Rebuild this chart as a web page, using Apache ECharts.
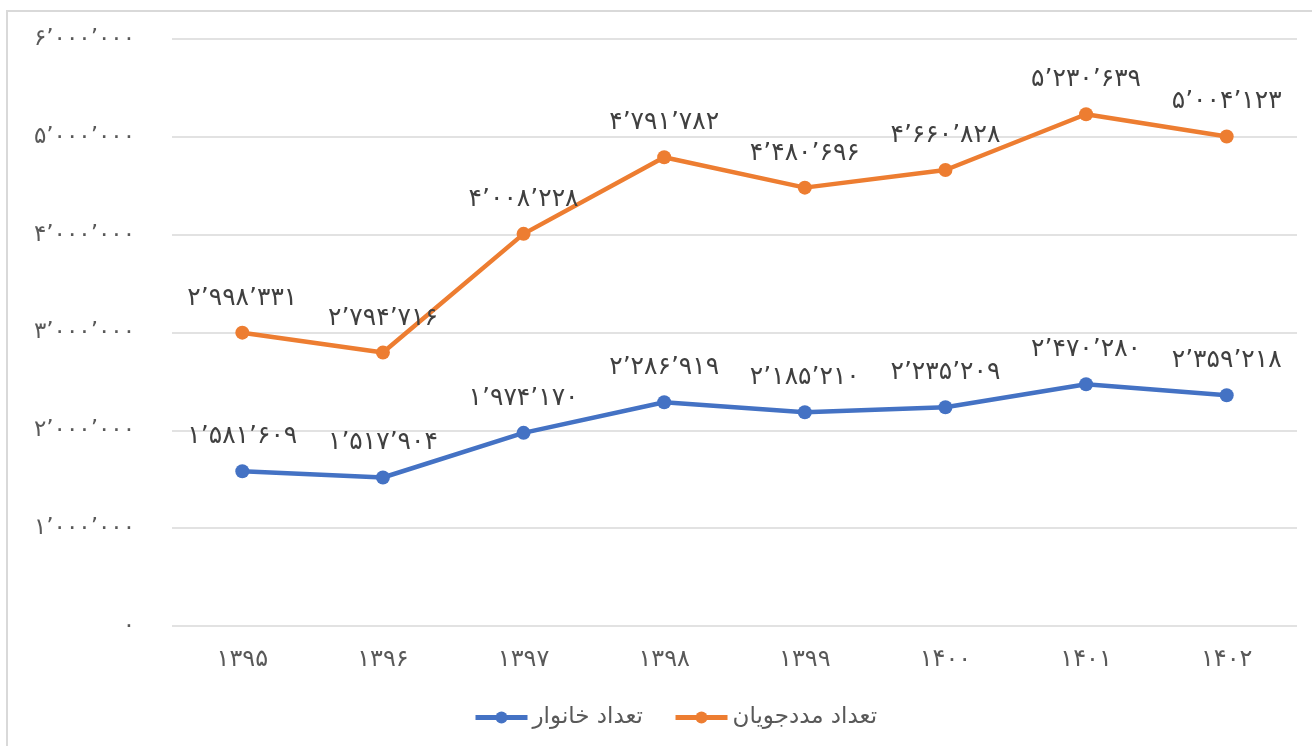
<!DOCTYPE html>
<html>
<head>
<meta charset="utf-8">
<script src="https://cdn.jsdelivr.net/npm/echarts@6/dist/echarts.min.js"></script>
<style>
  html, body { margin: 0; padding: 0; background: #fff; }
  .frame {
    position: absolute; left: 6px; top: 10px; right: -4px; bottom: -4px;
    border-left: 2px solid #d9d9d9; border-top: 2px solid #d9d9d9;
  }
  #chart { position: absolute; left: 0; top: 0; width: 1312px; height: 746px; }
</style>
</head>
<body>
<div class="frame"></div>
<div id="chart"></div>
<script>
const years = ['1395', '1396', '1397', '1398', '1399', '1400', '1401', '1402'];
const households = [1581609, 1517904, 1974170, 2286919, 2185210, 2235209, 2470280, 2359218];
const clients = [2998331, 2794716, 4008228, 4791782, 4480696, 4660828, 5230639, 5004123];
const seriesNames = ['تعداد خانوار', 'تعداد مددجویان'];

// persian digits + separator
const faDigits = s => String(s).replace(/\d/g, d => '۰۱۲۳۴۵۶۷۸۹'[d]);
const fa = n => faDigits(Number(n).toLocaleString('en-US').replace(/,/g, '’'));

const chart = echarts.init(document.getElementById('chart'));
const labelStyle = {
  show: true,
  position: 'top',
  distance: 15,
  color: '#404040',
  fontSize: 25,
  fontFamily: 'DejaVu Sans',
  formatter: p => fa(p.value)
};

const option = {
  backgroundColor: 'transparent',
  animation: false,
  grid: { left: 172, right: 15, top: 39, bottom: 120 },
  legend: {
    bottom: 12,
    left: 468,
    itemWidth: 52,
    itemHeight: 15,
    itemGap: 30,
    data: seriesNames,
    lineStyle: { width: 5 },
    textStyle: { color: '#595959', fontSize: 23, fontFamily: 'DejaVu Sans' }
  },
  xAxis: {
    type: 'category',
    data: years,
    axisLine: { show: false },
    axisTick: { show: false },
    axisLabel: {
      margin: 22,
      color: '#595959',
      fontSize: 24,
      fontFamily: 'DejaVu Sans',
      formatter: v => faDigits(v)
    }
  },
  yAxis: {
    type: 'value',
    min: 0,
    max: 6000000,
    interval: 1000000,
    axisLine: { show: false },
    axisTick: { show: false },
    splitLine: { lineStyle: { color: '#d9d9d9', width: 1.5 } },
    axisLabel: {
      margin: 37,
      color: '#595959',
      fontSize: 23,
      fontFamily: 'DejaVu Sans',
      formatter: v => fa(v)
    }
  },
  series: [
    {
      name: seriesNames[0],
      type: 'line',
      data: households,
      color: '#4472C4',
      symbol: 'circle',
      symbolSize: 14,
      lineStyle: { width: 4.5 },
      label: labelStyle
    },
    {
      name: seriesNames[1],
      type: 'line',
      data: clients,
      color: '#ED7D31',
      symbol: 'circle',
      symbolSize: 14,
      lineStyle: { width: 4.5 },
      label: labelStyle
    }
  ]
};
chart.setOption(option);
</script>
</body>
</html>
